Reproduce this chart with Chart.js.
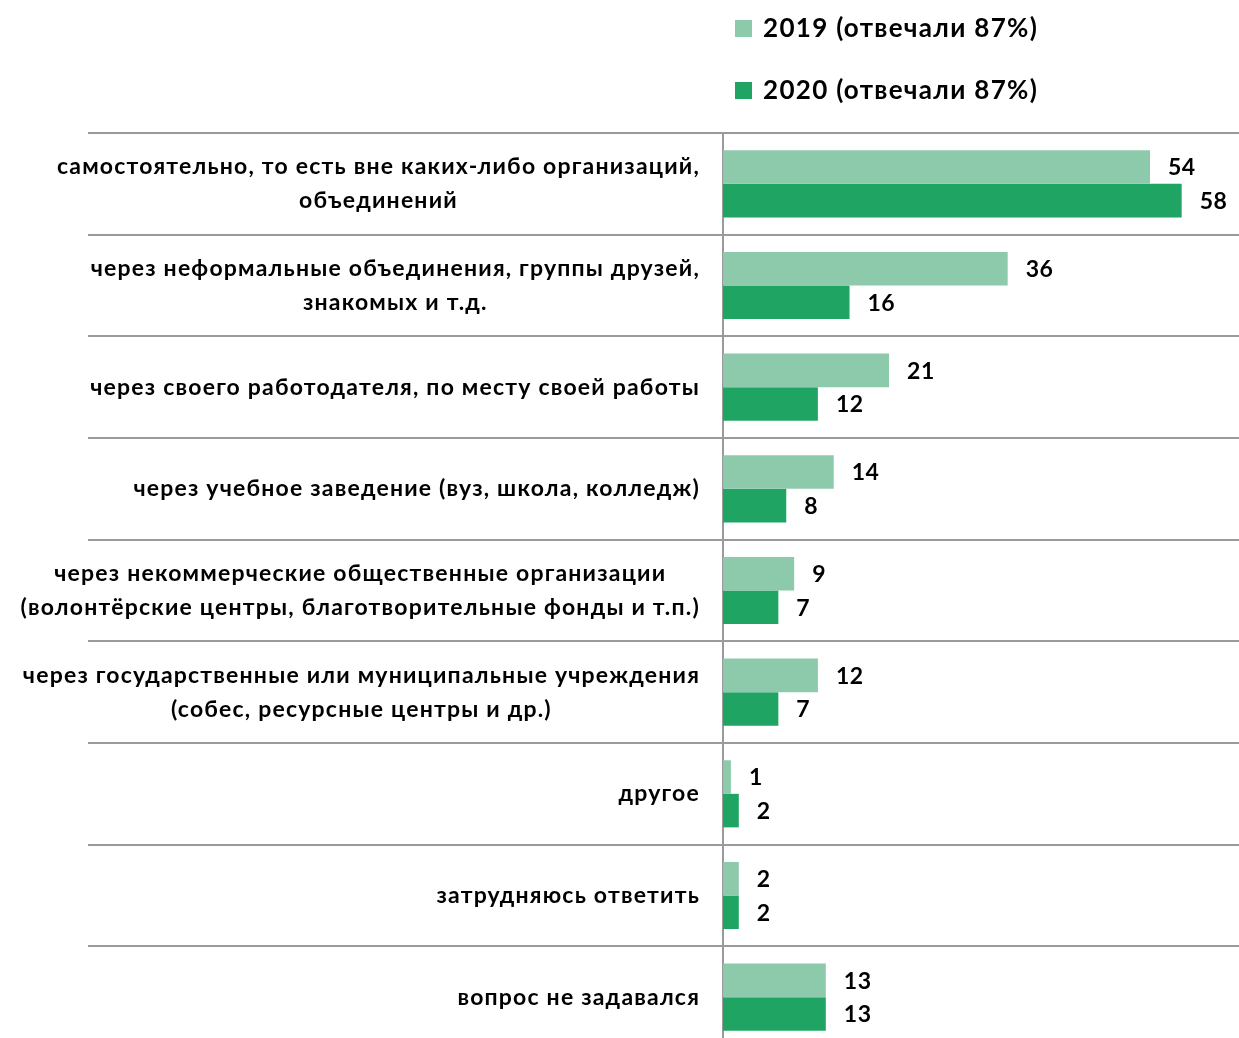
<!DOCTYPE html>
<html>
<head>
<meta charset="utf-8">
<script src="https://cdn.jsdelivr.net/npm/chart.js@4/dist/chart.umd.min.js"></script>
<style>
html,body{margin:0;padding:0;background:#fff;overflow:hidden;}
canvas{display:block;}
</style>
</head>
<body>
<canvas id="c" width="1239" height="1048"></canvas>
<script>
const categories = [
  ["самостоятельно, то есть вне каких-либо организаций,", "объединений"],
  ["через неформальные объединения, группы друзей,", "знакомых и т.д."],
  ["через своего работодателя, по месту своей работы"],
  ["через учебное заведение (вуз, школа, колледж)"],
  ["через некоммерческие общественные организации", "(волонтёрские центры, благотворительные фонды и т.п.)"],
  ["через государственные или муниципальные учреждения", "(собес, ресурсные центры и др.)"],
  ["другое"],
  ["затрудняюсь ответить"],
  ["вопрос не задавался"]
];
const seriesLabels = ["2019 (отвечали 87%)", "2020 (отвечали 87%)"];
const values2019 = [54, 36, 21, 14, 9, 12, 1, 2, 13];
const values2020 = [58, 16, 12, 8, 7, 7, 2, 2, 13];
const colors = ["#8ccaab", "#1fa463"];

const FONT = "Lato, 'Open Sans', sans-serif";
const LINE = "#9a9a9a";

const drawPlugin = {
  id: 'custom',
  beforeDatasetsDraw(chart) {
    const ctx = chart.ctx;
    const y = chart.scales.y;
    const ca = chart.chartArea;
    ctx.save();
    ctx.strokeStyle = LINE;
    ctx.lineWidth = 2;
    for (let i = 0; i <= categories.length; i++) {
      const py = Math.round(y.getPixelForValue(i - 0.5));
      ctx.beginPath();
      ctx.moveTo(88, py);
      ctx.lineTo(chart.width, py);
      ctx.stroke();
    }
    ctx.beginPath();
    ctx.moveTo(ca.left, ca.top);
    ctx.lineTo(ca.left, ca.bottom);
    ctx.stroke();
    ctx.restore();
  },
  afterDatasetsDraw(chart) {
    const ctx = chart.ctx;
    const y = chart.scales.y;
    ctx.save();
    ctx.fillStyle = "#000";
    ctx.font = "bold 23px " + FONT;
    ctx.letterSpacing = "1.2px";
    ctx.textBaseline = "middle";
    ctx.textAlign = "left";
    const rightX = 700;
    const lh = 34;
    categories.forEach((lines, i) => {
      const cy = y.getPixelForValue(i);
      const widths = lines.map(l => ctx.measureText(l).width);
      const maxW = Math.max(...widths);
      const blockLeft = rightX - maxW;
      const startY = cy - (lines.length - 1) * lh / 2;
      lines.forEach((l, k) => ctx.fillText(l, blockLeft + (maxW - widths[k]) / 2, startY + k * lh));
    });
    ctx.font = "bold 23px " + FONT;
    ctx.letterSpacing = "0.5px";
    chart.data.datasets.forEach((ds, di) => {
      const meta = chart.getDatasetMeta(di);
      meta.data.forEach((el, i) => {
        ctx.fillText(String(ds.data[i]), el.x + 18, el.y + 1);
      });
    });
    ctx.font = "bold 26px " + FONT;
    ctx.letterSpacing = "1.3px";
    const legY = [28, 90];
    chart.data.datasets.forEach((ds, di) => {
      ctx.fillStyle = ds.backgroundColor;
      ctx.fillRect(735, legY[di] - 8, 17, 17);
      ctx.fillStyle = "#000";
      ctx.fillText(ds.label, 763, legY[di] + 1);
    });
    ctx.restore();
  }
};

new Chart(document.getElementById('c'), {
  type: 'bar',
  data: {
    labels: categories,
    datasets: [
      { label: seriesLabels[0], data: values2019, backgroundColor: colors[0] },
      { label: seriesLabels[1], data: values2020, backgroundColor: colors[1] }
    ]
  },
  options: {
    indexAxis: 'y',
    responsive: false,
    animation: false,
    layout: { padding: { top: 133, right: 2, left: 0, bottom: 0 } },
    datasets: { bar: { categoryPercentage: 0.66, barPercentage: 1.0 } },
    plugins: { legend: { display: false }, tooltip: { enabled: false } },
    scales: {
      x: { display: false, min: 0, max: 65 },
      y: {
        display: true,
        grid: { display: false },
        border: { display: false },
        ticks: { display: false },
        afterFit(scale) { scale.width = 723; }
      }
    }
  },
  plugins: [drawPlugin]
});
</script>
</body>
</html>
